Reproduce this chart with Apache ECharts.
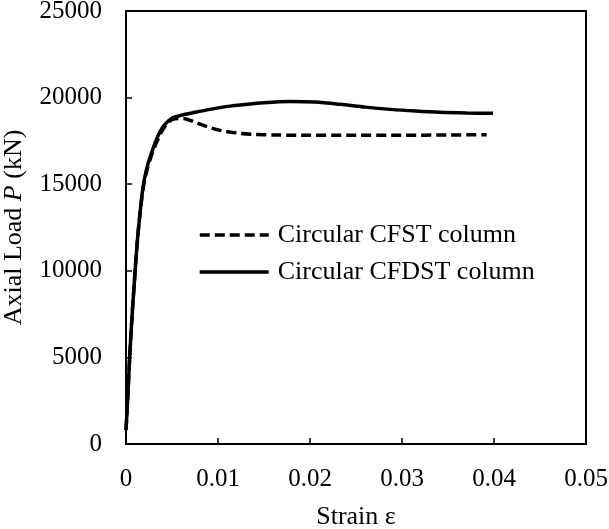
<!DOCTYPE html>
<html>
<head>
<meta charset="utf-8">
<script src="https://cdn.jsdelivr.net/npm/echarts@6/dist/echarts.min.js"></script>
<style>
html,body{margin:0;padding:0;background:#fff;}
#chart{width:609px;height:529px;}
</style>
</head>
<body>
<div id="chart"></div>
<script>
// Strain values and axial loads (kN)
const cfstStrain = [0, 0.0002, 0.0004, 0.0006, 0.0009, 0.0012, 0.0015, 0.0019, 0.0024, 0.0029, 0.0034, 0.0040, 0.0046, 0.0053, 0.0062, 0.0075, 0.0088, 0.0105, 0.0124, 0.0140, 0.0160, 0.0200, 0.0250, 0.0300, 0.0350, 0.0392];
const cfstLoad   = [800, 2800, 5000, 6900, 9300, 11500, 13200, 14900, 16050, 16850, 17500, 18150, 18580, 18780, 18800, 18580, 18320, 18080, 17940, 17880, 17840, 17830, 17830, 17830, 17840, 17860];

const cfdstStrain = [0, 0.0002, 0.0004, 0.0006, 0.0009, 0.0012, 0.0015, 0.0019, 0.0024, 0.0029, 0.0034, 0.0040, 0.0046, 0.0051, 0.0060, 0.0075, 0.0088, 0.0105, 0.0124, 0.0150, 0.0178, 0.0205, 0.0233, 0.0260, 0.0287, 0.0315, 0.0341, 0.0370, 0.0399];
const cfdstLoad   = [800, 2800, 5000, 6900, 9300, 11500, 13200, 15000, 16200, 17000, 17700, 18300, 18650, 18840, 18980, 19150, 19290, 19450, 19570, 19700, 19770, 19740, 19610, 19450, 19320, 19220, 19150, 19110, 19090];

const seriesNames = ['Circular CFST column', 'Circular CFDST column'];
const xTicks = [0, 0.01, 0.02, 0.03, 0.04, 0.05];
const yTicks = [0, 5000, 10000, 15000, 20000, 25000];

const font = '"Liberation Serif", "Times New Roman", serif';
const fs = 25;
const zip = (a, b) => a.map((v, i) => [v, b[i]]);

const chart = echarts.init(document.getElementById('chart'), null, {renderer: 'canvas'});
chart.setOption({
  animation: false,
  backgroundColor: '#fff',
  grid: {left: 126, right: 23, top: 11, bottom: 85, containLabel: false, outerBoundsMode: 'none',
    show: true, borderColor: '#000', borderWidth: 2, backgroundColor: 'transparent'},
  legend: {
    orient: 'vertical',
    left: 193,
    top: 217,
    itemWidth: 69,
    itemHeight: 20,
    itemGap: 11,
    data: seriesNames,
    itemStyle: {opacity: 0},
    lineStyle: {width: 3.5},
    textStyle: {fontFamily: font, fontSize: 26, color: '#000', padding: [0, 0, 0, 4]}
  },
  xAxis: {
    type: 'value',
    min: 0, max: 0.05, interval: 0.01,
    name: 'Strain ε',
    nameLocation: 'middle',
    nameGap: 60,
    nameTextStyle: {fontFamily: font, fontSize: 26, color: '#000'},
    axisLine: {show: true, lineStyle: {color: '#000', width: 2}},
    axisTick: {show: true, inside: true, length: 6, lineStyle: {color: '#000', width: 1.5}},
    axisLabel: {fontFamily: font, fontSize: fs, color: '#000', margin: 23,
      formatter: v => { const t = xTicks.find(x => Math.abs(x - v) < 1e-9); return t === 0 ? '0' : (t !== undefined ? t.toFixed(2) : ''); }},
    splitLine: {show: false}
  },
  yAxis: {
    type: 'value',
    min: 0, max: 25000, interval: 5000,
    name: '{n|Axial Load }{i|P}{n| (kN)}',
    nameLocation: 'middle',
    nameGap: 99,
    nameTextStyle: {fontFamily: font, fontSize: 26, color: '#000',
      rich: {n: {fontFamily: font, fontSize: 26, color: '#000'}, i: {fontFamily: font, fontSize: 26, color: '#000', fontStyle: 'italic'}}},
    axisLine: {show: true, lineStyle: {color: '#000', width: 2}},
    axisTick: {show: true, inside: true, length: 6, lineStyle: {color: '#000', width: 1.5}},
    axisLabel: {fontFamily: font, fontSize: fs, color: '#000', margin: 24,
      formatter: v => { const t = yTicks.find(y => Math.abs(y - v) < 1e-6); return t !== undefined ? String(t) : ''; }},
    splitLine: {show: false}
  },
  series: [
    {
      name: seriesNames[0], type: 'line', data: zip(cfstStrain, cfstLoad),
      symbol: 'none', smooth: 0.3,
      lineStyle: {color: '#000', width: 3.5, type: [10, 5]},
      itemStyle: {color: '#000'}
    },
    {
      name: seriesNames[1], type: 'line', data: zip(cfdstStrain, cfdstLoad),
      symbol: 'none', smooth: 0.3,
      lineStyle: {color: '#000', width: 3.5, type: 'solid'},
      itemStyle: {color: '#000'}
    }
  ]
});
</script>
</body>
</html>
